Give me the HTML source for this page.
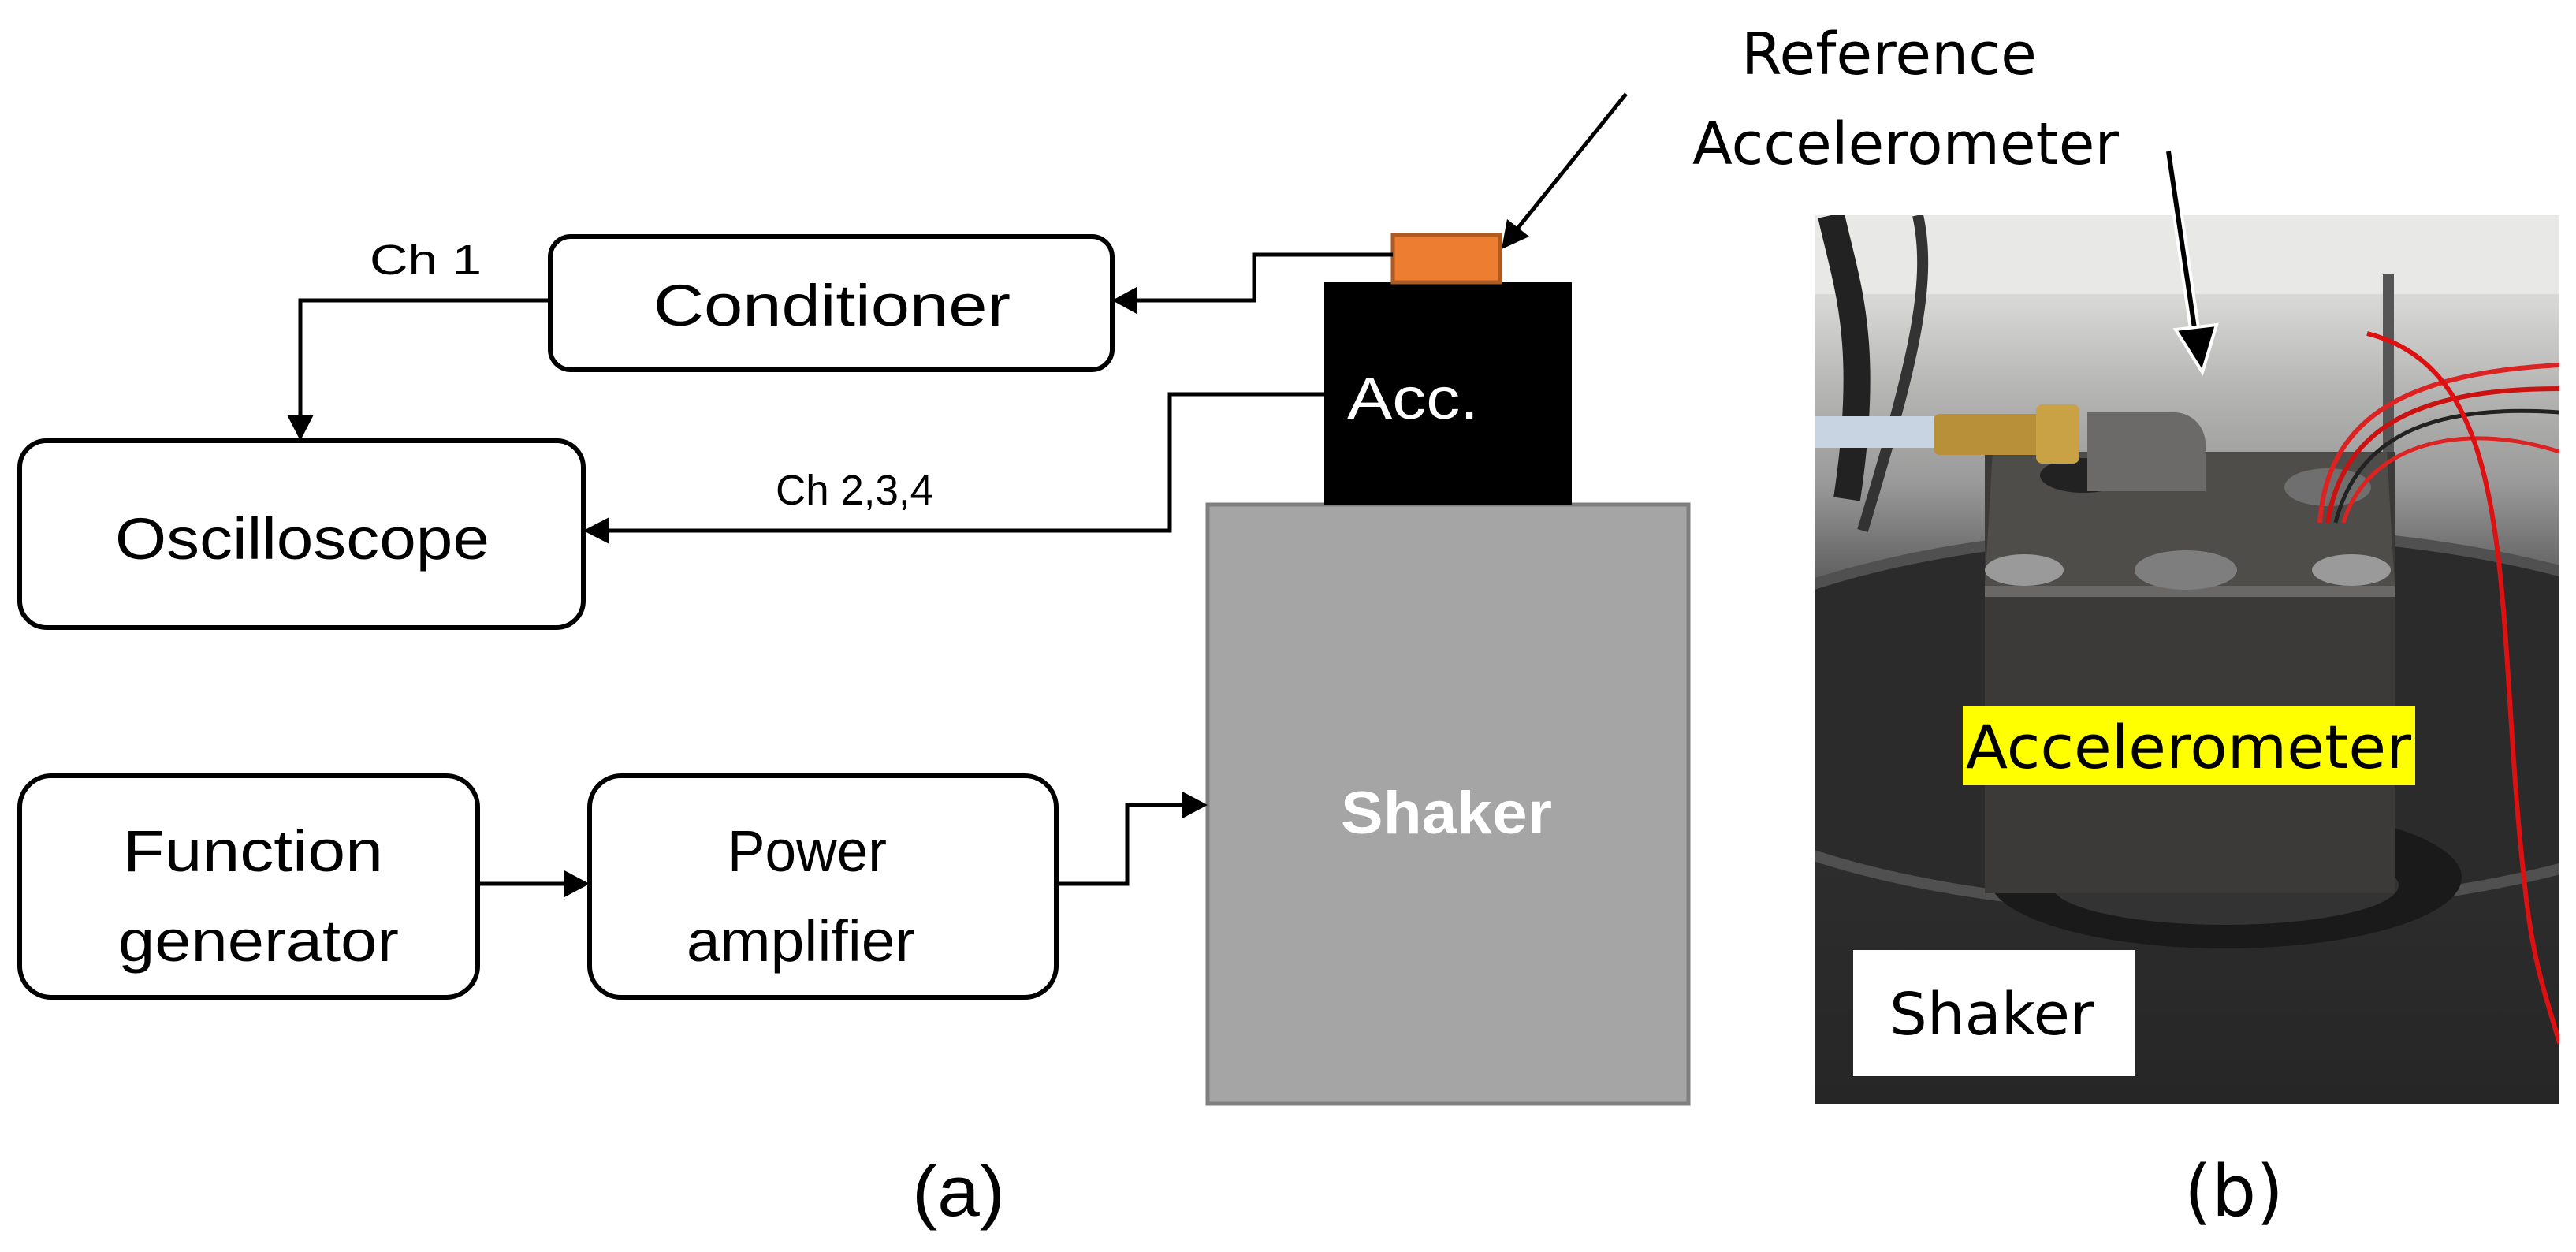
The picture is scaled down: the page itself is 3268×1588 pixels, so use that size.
<!DOCTYPE html>
<html><head><meta charset="utf-8"><style>
html,body{margin:0;padding:0;background:#fff;width:3268px;height:1588px;overflow:hidden}
svg{display:block}
.l{font-family:"Liberation Sans",sans-serif;fill:#000}
.r{font-family:"DejaVu Sans","Liberation Sans",sans-serif;fill:#000}
</style></head><body>
<svg width="3268" height="1588" viewBox="0 0 3268 1588" xmlns="http://www.w3.org/2000/svg">
<defs>
<linearGradient id="bg" x1="0" y1="0" x2="0" y2="1">
<stop offset="0" stop-color="#e6e6e4"/><stop offset="0.1" stop-color="#d6d6d4"/><stop offset="0.2" stop-color="#b4b4b3"/><stop offset="0.3" stop-color="#9a9a9a"/><stop offset="0.42" stop-color="#5a5a5a"/><stop offset="0.5" stop-color="#333"/><stop offset="1" stop-color="#262626"/>
</linearGradient>
</defs>
<g fill="#fff" stroke="#000" stroke-width="6">
<rect x="698" y="300" width="713" height="169" rx="26"/>
<rect x="25" y="559" width="715" height="237" rx="34"/>
<rect x="25" y="984" width="581" height="281" rx="40"/>
<rect x="748" y="984" width="592" height="281" rx="40"/>
</g>
<rect x="1532" y="640" width="610" height="760" fill="#a5a5a5" stroke="#7f7f7f" stroke-width="5"/>
<rect x="1680" y="358" width="314" height="282" fill="#000"/>
<rect x="1767" y="298" width="136" height="60" fill="#ed7d31" stroke="#ae5a21" stroke-width="5"/>
<g fill="none" stroke="#000" stroke-width="5">
<polyline points="1767,323 1591,323 1591,381 1440,381"/>
<polyline points="698,381 381,381 381,528"/>
<polyline points="1680,500 1484,500 1484,673 772,673"/>
<polyline points="606,1121 718,1121"/>
<polyline points="1340,1121 1430,1121 1430,1021 1500,1021"/>
<line x1="2063" y1="119" x2="1925" y2="290"/>
</g>
<g fill="#000">
<polygon points="1411,381 1442,364 1442,398"/>
<polygon points="381,559 364,526 398,526"/>
<polygon points="740,673 773,656 773,690"/>
<polygon points="748,1121 716,1104 716,1138"/>
<polygon points="1532,1021 1500,1004 1500,1038"/>
<polygon points="1905,316 1912,278 1940,300"/>
</g>
<g class="l" lengthAdjust="spacingAndGlyphs">
<text x="469" y="348" font-size="54" textLength="142" lengthAdjust="spacingAndGlyphs">Ch 1</text>
<text x="829" y="413" font-size="74" textLength="453" lengthAdjust="spacingAndGlyphs">Conditioner</text>
<text x="146" y="709" font-size="74" textLength="475" lengthAdjust="spacingAndGlyphs">Oscilloscope</text>
<text x="984" y="640" font-size="54" textLength="200" lengthAdjust="spacingAndGlyphs">Ch 2,3,4</text>
<text x="156" y="1105" font-size="74" textLength="330" lengthAdjust="spacingAndGlyphs">Function</text>
<text x="150" y="1219" font-size="74" textLength="356" lengthAdjust="spacingAndGlyphs">generator</text>
<text x="923" y="1105" font-size="74" textLength="202" lengthAdjust="spacingAndGlyphs">Power</text>
<text x="871" y="1219" font-size="74" textLength="290" lengthAdjust="spacingAndGlyphs">amplifier</text>
<text x="1709" y="531" font-size="74" textLength="167" lengthAdjust="spacingAndGlyphs" style="fill:#fff">Acc.</text>
<text x="1701" y="1057" font-size="76" font-weight="bold" textLength="268" lengthAdjust="spacingAndGlyphs" style="fill:#fff">Shaker</text>
<text x="1157" y="1542" font-size="90" textLength="118" lengthAdjust="spacingAndGlyphs">(a)</text>
</g>
<svg x="2303" y="273" width="944" height="1127" viewBox="0 0 944 1127">
<rect width="944" height="1127" fill="url(#bg)"/>
<rect x="0" y="0" width="944" height="100" fill="#e8e8e6"/>
<path d="M20 0 C40 90 70 160 40 360" stroke="#222" stroke-width="34" fill="none"/>
<path d="M130 0 C150 90 120 200 60 400" stroke="#333" stroke-width="14" fill="none"/>
<rect x="720" y="75" width="14" height="260" fill="#555"/>
<ellipse cx="500" cy="640" rx="720" ry="240" fill="#2b2b2b"/>
<ellipse cx="500" cy="640" rx="720" ry="240" fill="none" stroke="#505050" stroke-width="14"/>
<ellipse cx="520" cy="840" rx="300" ry="90" fill="#1a1a1a"/>
<ellipse cx="520" cy="850" rx="220" ry="50" fill="#333"/>
<rect x="215" y="300" width="520" height="560" fill="#3c3a38"/>
<polygon points="225,300 725,300 735,470 215,470" fill="#4f4d4a"/>
<rect x="215" y="470" width="520" height="14" fill="#6a6866"/>
<ellipse cx="340" cy="330" rx="55" ry="22" fill="#222"/>
<ellipse cx="650" cy="345" rx="55" ry="24" fill="#6f6f6f"/>
<ellipse cx="265" cy="450" rx="50" ry="20" fill="#9a9a9a"/>
<ellipse cx="470" cy="450" rx="65" ry="25" fill="#7e7e7e"/>
<ellipse cx="680" cy="450" rx="50" ry="20" fill="#9a9a9a"/>
<path d="M345 250 h110 a40 40 0 0 1 40 40 v60 h-150 z" fill="#6c6a68"/>
<rect x="0" y="255" width="150" height="40" fill="#c8d4e2"/>
<rect x="150" y="252" width="150" height="52" rx="8" fill="#b8903a"/>
<rect x="280" y="240" width="55" height="75" rx="8" fill="#caa246"/>
<path d="M640 390 C650 250 760 200 944 190" stroke="#d22" stroke-width="6" fill="none"/>
<path d="M650 390 C670 260 780 220 944 220" stroke="#c11" stroke-width="6" fill="none"/>
<path d="M660 390 C690 270 800 240 944 250" stroke="#222" stroke-width="5" fill="none"/>
<path d="M670 390 C700 290 820 260 944 300" stroke="#d22" stroke-width="5" fill="none"/>
<path d="M700 150 C900 200 860 500 900 850 C910 950 930 1000 944 1050" stroke="#d11" stroke-width="6" fill="none"/>
<rect x="187" y="623" width="574" height="100" fill="#ffff00"/>
<rect x="48" y="932" width="358" height="160" fill="#fff"/>
</svg>
<g class="r">
<text x="2209" y="94" font-size="74" textLength="375" lengthAdjust="spacingAndGlyphs">Reference</text>
<text x="2147" y="208" font-size="74" textLength="541" lengthAdjust="spacingAndGlyphs">Accelerometer</text>
<text x="2494" y="974" font-size="76" textLength="565" lengthAdjust="spacingAndGlyphs">Accelerometer</text>
<text x="2397" y="1312" font-size="74" textLength="260" lengthAdjust="spacingAndGlyphs">Shaker</text>
<text x="2771" y="1542" font-size="90" textLength="126" lengthAdjust="spacingAndGlyphs">(b)</text>
</g>
<line x1="2751" y1="192" x2="2786" y2="430" stroke="#fff" stroke-width="14"/>
<line x1="2751" y1="192" x2="2786" y2="430" stroke="#000" stroke-width="6"/>
<polygon points="2794,472 2760,418 2812,412" fill="#000" stroke="#fff" stroke-width="4"/>
</svg>
</body></html>
